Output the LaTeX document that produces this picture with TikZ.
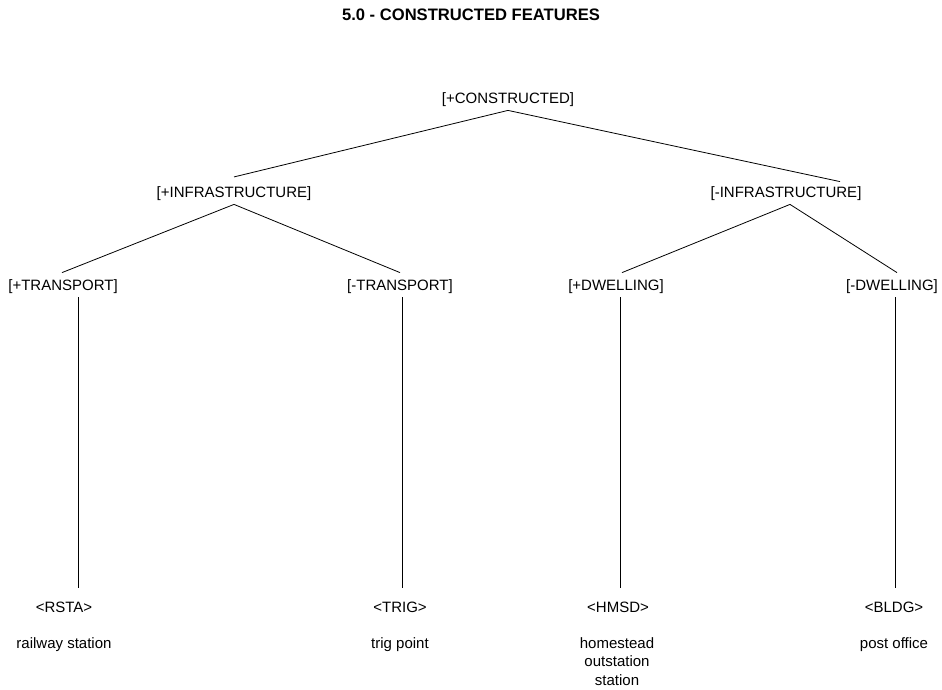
\documentclass[tikz,border=0pt]{standalone}
\usepackage{fontspec}
\setmainfont{Liberation Sans}
\begin{document}
\begin{tikzpicture}[x=0.75pt,y=-0.75pt,line width=0.6pt,
    feat/.style={inner xsep=0pt,inner ysep=5pt,text height=8pt,text depth=0pt,font=\fontsize{11.25}{13.9}\selectfont},
    gloss/.style={anchor=north,inner sep=0pt,align=center,font=\fontsize{11.25}{13.9}\selectfont}]
        \useasboundingbox (0,0) rectangle (942,689);

        % title
        \node[inner sep=0pt,text height=8.9pt,text depth=0pt,font=\bfseries\fontsize{12.45}{15}\selectfont] (title) at (471,15) {5.0 - CONSTRUCTED FEATURES};

        % feature nodes
        \node[feat] (cons) at (508,98) {[+CONSTRUCTED]};
        \node[feat] (infp) at (234,192) {[+INFRASTRUCTURE]};
        \node[feat] (infm) at (786,192) {[-INFRASTRUCTURE]};
        \node[feat] (trp) at (63,285) {[+TRANSPORT]};
        \node[feat] (trm) at (400,285) {[-TRANSPORT]};
        \node[feat] (dwp) at (616,285) {[+DWELLING]};
        \node[feat] (dwm) at (892,285) {[-DWELLING]};

        % codes
        \node[feat] (rsta) at (64,607) {<RSTA>};
        \node[feat] (trig) at (400,607) {<TRIG>};
        \node[feat] (hmsd) at (618,607) {<HMSD>};
        \node[feat] (bldg) at (894,607) {<BLDG>};

        % examples
        \node[gloss] (rstaex) at (64,637) {railway station};
        \node[gloss] (trigex) at (400,637) {trig point};
        \node[gloss] (hmsdex) at (617,637) {homestead\\outstation\\station};
        \node[gloss] (bldgex) at (894,637) {post office};

        % branches
        \draw (cons.south) -- ([yshift=2pt]infp.north);
        \draw (cons.south) -- ([xshift=40.5pt,yshift=-1.5pt]infm.north);
        \draw (infp.south) -- ([xshift=-0.75pt]trp.north);
        \draw (infp.south) -- (trm.north);
        \draw ([xshift=3pt]infm.south) -- ([xshift=4.5pt]dwp.north);
        \draw ([xshift=3pt]infm.south) -- ([xshift=3.75pt]dwm.north);

        % stems
        \draw ([xshift=11.25pt]trp.south) -- ([xshift=10.5pt,yshift=5pt]rsta.north);
        \draw ([xshift=1.5pt]trm.south) -- ([xshift=1.5pt,yshift=5pt]trig.north);
        \draw ([xshift=3pt]dwp.south) -- ([xshift=1.5pt,yshift=5pt]hmsd.north);
        \draw ([xshift=2.25pt]dwm.south) -- ([xshift=0.75pt,yshift=5pt]bldg.north);

    \end{tikzpicture}
\end{document}
